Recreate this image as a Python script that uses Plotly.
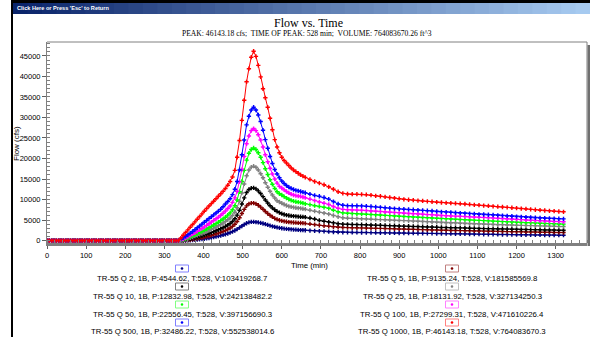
import plotly.graph_objects as go

# ---------------- data ----------------
base_times = list(range(0, 336, 6))
rise_times = list(range(336, 661, 6))
tail_times = list(range(672, 1321, 12))

series_names = ["TR-55 Q 2", "TR-55 Q 5", "TR-55 Q 10", "TR-55 Q 25",
                "TR-55 Q 50", "TR-55 Q 100", "TR-55 Q 500", "TR-55 Q 1000"]

legend_labels = [
    "TR-55 Q 2, 1B, P:4544.62, T:528, V:103419268.7",
    "TR-55 Q 5, 1B, P:9135.24, T:528, V:181585569.8",
    "TR-55 Q 10, 1B, P:12832.98, T:528, V:242138482.2",
    "TR-55 Q 25, 1B, P:18131.92, T:528, V:327134250.3",
    "TR-55 Q 50, 1B, P:22556.45, T:528, V:397156690.3",
    "TR-55 Q 100, 1B, P:27299.31, T:528, V:471610226.4",
    "TR-55 Q 500, 1B, P:32486.22, T:528, V:552538014.6",
    "TR-55 Q 1000, 1B, P:46143.18, T:528, V:764083670.3",
]

q2_rise = [0, 0, 0, 10, 30, 60, 100, 150, 210, 280,
           350, 430, 520, 620, 720, 830, 950, 1080, 1220, 1370,
           1530, 1720, 1930, 2170, 2450, 2780, 3150, 3530, 3900, 4220,
           4430, 4530, 4544.62, 4500, 4420, 4300, 4150, 3980, 3800, 3630,
           3470, 3320, 3190, 3080, 2990, 2910, 2840, 2780, 2730, 2680,
           2640, 2600, 2560, 2530, 2500]
q2_tail = [2430, 2370, 2300, 2230, 2160, 2090, 2030, 2000, 1990, 1980,
           1970, 1960, 1950, 1930, 1920, 1900, 1890, 1870, 1860, 1840,
           1830, 1810, 1800, 1780, 1770, 1750, 1740, 1720, 1700, 1690,
           1670, 1660, 1640, 1620, 1600, 1580, 1560, 1540, 1530, 1510,
           1490, 1470, 1460, 1440, 1420, 1400, 1390, 1380, 1370, 1360,
           1350, 1340, 1330, 1310, 1300]

q5_rise = [0, 0, 20, 60, 120, 190, 270, 360, 460, 570,
           690, 820, 960, 1110, 1270, 1440, 1620, 1810, 2010, 2230,
           2470, 2740, 3050, 3450, 3950, 4650, 5550, 6600, 7600, 8450,
           8950, 9120, 9135.24, 8950, 8600, 8150, 7650, 7100, 6600, 6150,
           5750, 5400, 5150, 4950, 4800, 4680, 4580, 4500, 4440, 4390,
           4350, 4310, 4270, 4230, 4190]
q5_tail = [4050, 3900, 3720, 3600, 3480, 3360, 3240, 3180, 3150, 3120,
           3100, 3080, 3050, 3020, 2990, 2960, 2930, 2900, 2870, 2830,
           2800, 2770, 2730, 2700, 2660, 2630, 2590, 2560, 2520, 2500,
           2470, 2450, 2420, 2400, 2370, 2340, 2310, 2290, 2270, 2250,
           2230, 2200, 2180, 2160, 2140, 2120, 2100, 2080, 2060, 2040,
           2020, 2000, 1980, 1970, 1950]

q10_rise = [0, 20, 80, 170, 280, 400, 530, 670, 820, 980,
            1150, 1330, 1520, 1720, 1930, 2150, 2380, 2620, 2870, 3140,
            3440, 3770, 4150, 4650, 5300, 6200, 7400, 8900, 10400, 11700,
            12450, 12780, 12832.98, 12600, 12100, 11450, 10700, 9900, 9150, 8500,
            7950, 7500, 7100, 6800, 6550, 6350, 6200, 6100, 6020, 5950,
            5900, 5850, 5800, 5750, 5700]
q10_tail = [5500, 5250, 4900, 4700, 4500, 4300, 4100, 4000, 3950, 3920,
            3900, 3880, 3840, 3800, 3760, 3720, 3680, 3640, 3600, 3560,
            3520, 3480, 3440, 3400, 3360, 3320, 3280, 3240, 3200, 3170,
            3140, 3110, 3080, 3040, 3000, 2960, 2920, 2900, 2880, 2850,
            2830, 2800, 2780, 2750, 2730, 2700, 2680, 2660, 2640, 2610,
            2590, 2570, 2550, 2530, 2500]

q25_rise = [0, 50, 170, 320, 490, 670, 860, 1060, 1270, 1490,
            1720, 1960, 2210, 2470, 2740, 3020, 3310, 3610, 3930, 4270,
            4640, 5050, 5500, 6100, 6900, 8000, 9600, 11600, 13800, 15800,
            17200, 17900, 18131.92, 17850, 17200, 16300, 15300, 14100, 13000, 12000,
            11100, 10350, 9700, 9400, 9100, 8800, 8550, 8350, 8200, 8100,
            8000, 7920, 7850, 7750, 7650]
q25_tail = [7400, 7150, 6920, 6700, 6450, 6100, 5800, 5550, 5450, 5400,
            5350, 5300, 5250, 5200, 5150, 5100, 5050, 5000, 4950, 4900,
            4850, 4800, 4740, 4680, 4620, 4560, 4500, 4440, 4390, 4340,
            4290, 4240, 4190, 4140, 4100, 4050, 4000, 3970, 3940, 3900,
            3870, 3830, 3800, 3770, 3730, 3700, 3670, 3640, 3610, 3580,
            3550, 3510, 3480, 3440, 3400]

q50_rise = [0, 100, 280, 480, 700, 930, 1170, 1420, 1680, 1950,
            2230, 2520, 2820, 3130, 3450, 3780, 4120, 4470, 4850, 5250,
            5700, 6200, 6750, 7500, 8500, 9900, 11900, 14400, 17100, 19600,
            21300, 22200, 22556.45, 22200, 21400, 20300, 19000, 17500, 16100, 14800,
            13700, 12700, 11900, 11400, 11100, 10700, 10350, 10050, 9800, 9600,
            9450, 9350, 9250, 9100, 8950]
q50_tail = [8750, 8500, 8320, 8100, 7850, 7400, 7000, 6750, 6650, 6580,
            6530, 6480, 6420, 6350, 6280, 6210, 6140, 6070, 6000, 5930,
            5870, 5810, 5750, 5690, 5630, 5570, 5510, 5450, 5390, 5330,
            5270, 5210, 5150, 5090, 5030, 4970, 4910, 4850, 4790, 4730,
            4670, 4610, 4550, 4500, 4450, 4400, 4350, 4300, 4250, 4200,
            4160, 4120, 4080, 4040, 4000]

q100_rise = [0, 150, 400, 650, 950, 1250, 1550, 1900, 2250, 2600,
             2950, 3300, 3700, 4100, 4500, 4900, 5300, 5700, 6150, 6650,
             7200, 7800, 8400, 9300, 10400, 12000, 14300, 17300, 20500, 23600,
             25500, 26800, 27299.31, 26800, 25800, 24500, 22800, 20900, 19200, 17600,
             16200, 15000, 14000, 13200, 12800, 12350, 11950, 11600, 11300, 11100,
             10950, 10850, 10750, 10600, 10450]
q100_tail = [10100, 9750, 9400, 9100, 8800, 8300, 7850, 7600, 7500, 7450,
             7420, 7380, 7300, 7220, 7140, 7060, 6980, 6900, 6820, 6740,
             6670, 6600, 6530, 6460, 6390, 6320, 6250, 6180, 6100, 6050,
             6000, 5950, 5900, 5850, 5800, 5750, 5700, 5640, 5580, 5520,
             5450, 5380, 5310, 5240, 5170, 5100, 5020, 4950, 4880, 4820,
             4760, 4710, 4660, 4620, 4580]

q500_rise = [0, 300, 650, 1000, 1400, 1800, 2200, 2650, 3100, 3550,
             4000, 4450, 4900, 5350, 5800, 6250, 6700, 7150, 7650, 8250,
             8900, 9500, 10200, 11200, 12500, 14400, 17200, 20900, 24500, 28200,
             30300, 31800, 32486.22, 31800, 30600, 29000, 26900, 24600, 22500, 20500,
             18800, 17300, 16200, 15300, 14500, 13900, 13400, 13000, 12700, 12450,
             12250, 12100, 11950, 11800, 11650]
q500_tail = [11300, 11000, 10800, 10500, 10100, 9500, 8900, 8600, 8500, 8500,
             8480, 8450, 8380, 8300, 8200, 8100, 8000, 7900, 7800, 7720,
             7650, 7580, 7500, 7430, 7350, 7280, 7200, 7100, 7000, 6930,
             6860, 6780, 6700, 6630, 6560, 6480, 6400, 6340, 6280, 6220,
             6150, 6080, 6000, 5920, 5850, 5780, 5700, 5630, 5560, 5500,
             5450, 5400, 5360, 5320, 5280]

q1000_rise = [0, 600, 1300, 1950, 2600, 3250, 3900, 4550, 5200, 5850,
              6500, 7150, 7800, 8400, 9000, 9600, 10200, 10800, 11400, 12000,
              12700, 13500, 14400, 15500, 17100, 20300, 24400, 29300, 34200, 38700,
              41900, 44700, 46143.18, 44900, 42700, 39900, 37000, 34800, 32500, 29800,
              27000, 24600, 22800, 21400, 20300, 19500, 18900, 18300, 17700, 17200,
              16800, 16400, 16000, 15700, 15400]
q1000_tail = [14900, 14400, 14000, 13600, 13100, 12500, 11900, 11500, 11350, 11300,
              11300, 11250, 11200, 11050, 10900, 10800, 10650, 10500, 10350, 10200,
              10050, 9950, 9850, 9750, 9650, 9550, 9450, 9350, 9280, 9200,
              9120, 9050, 8980, 8900, 8800, 8700, 8620, 8530, 8440, 8350,
              8260, 8170, 8080, 7990, 7900, 7800, 7700, 7600, 7500, 7400,
              7320, 7240, 7160, 7080, 7000]

rises = [q2_rise, q5_rise, q10_rise, q25_rise, q50_rise, q100_rise, q500_rise, q1000_rise]
tails = [q2_tail, q5_tail, q10_tail, q25_tail, q50_tail, q100_tail, q500_tail, q1000_tail]
baseline_flow = [0] * len(base_times)

x_ticks = list(range(0, 1301, 100))
y_ticks = list(range(0, 45001, 5000))

# ---------------- styling ----------------
colors = ["#000080", "#800000", "#000000", "#808080",
          "#00ff00", "#ff00ff", "#0000ff", "#ff0000"]
box_colors = ["#8080ff", "#c08080", "#808080", "#c0c0c0",
              "#80ff80", "#ff80ff", "#8080ff", "#ff8080"]

W, H = 590, 337
L, R, T, B = 47, 587, 42, 243


def px(x):
    return (x - L) / (R - L)


def py(y):
    return (B - y) / (B - T)


fig = go.Figure()
for name, col, rs, tl in zip(series_names, colors, rises, tails):
    xs = base_times + rise_times[:len(rs)] + tail_times[:len(tl)]
    ys = baseline_flow + rs + tl
    fig.add_trace(go.Scatter(
        x=xs, y=ys, mode="lines+markers", name=name,
        line=dict(color=col, width=1),
        marker=dict(symbol="cross", size=3.6, color=col, line=dict(width=0)),
        showlegend=False, hoverinfo="skip", cliponaxis=True))

shapes = []
annotations = []

# window frame and title bar
shapes.append(dict(type="rect", xref="paper", yref="paper",
                   x0=px(11), x1=px(590), y0=py(3), y1=py(0),
                   fillcolor="#000000", line=dict(width=0), layer="above"))
shapes.append(dict(type="rect", xref="paper", yref="paper",
                   x0=px(11), x1=px(13), y0=py(337), y1=py(0),
                   fillcolor="#000000", line=dict(width=0), layer="above"))
n = 40
c0 = (10, 36, 106)
c1 = (166, 202, 240)
for i in range(n):
    f = i / (n - 1)
    c = tuple(int(round(c0[k] + (c1[k] - c0[k]) * f)) for k in range(3))
    xa = 13 + (590 - 13) * i / n
    xb = 13 + (590 - 13) * (i + 1) / n
    shapes.append(dict(type="rect", xref="paper", yref="paper",
                       x0=px(xa), x1=px(xb) + 0.002, y0=py(14), y1=py(3),
                       fillcolor="rgb(%d,%d,%d)" % c, line=dict(width=0), layer="above"))
annotations.append(dict(text="<b>Click Here or Press 'Esc' to Return</b>",
                        xref="paper", yref="paper", x=px(15), y=py(8.5),
                        xanchor="left", yanchor="middle", showarrow=False,
                        font=dict(family="Liberation Sans", size=5.6, color="white")))

# plot frame (top + right) and shadow
shapes.append(dict(type="line", xref="paper", yref="paper", x0=0, x1=1, y0=1, y1=1,
                   line=dict(color="#808080", width=1)))
shapes.append(dict(type="line", xref="paper", yref="paper", x0=1, x1=1, y0=0, y1=1,
                   line=dict(color="#808080", width=1)))
shapes.append(dict(type="rect", xref="paper", yref="paper",
                   x0=px(587.5), x1=px(590), y0=py(246), y1=py(45),
                   fillcolor="#707070", line=dict(width=0)))

# titles
annotations.append(dict(text="Flow vs. Time", xref="paper", yref="paper",
                        x=px(308), y=py(23), xanchor="center", yanchor="middle",
                        showarrow=False,
                        font=dict(family="Liberation Serif", size=12, color="black")))
annotations.append(dict(text="PEAK: 46143.18 cfs;  TIME OF PEAK: 528 min;  VOLUME: 764083670.26 ft^3",
                        xref="paper", yref="paper", x=px(307), y=py(34),
                        xanchor="center", yanchor="middle", showarrow=False,
                        font=dict(family="Liberation Serif", size=7.6, color="black")))
annotations.append(dict(text="Flow (cfs)", xref="paper", yref="paper",
                        x=px(16), y=py(144), xanchor="center", yanchor="middle",
                        textangle=-90, showarrow=False,
                        font=dict(family="Liberation Sans", size=8, color="black")))
annotations.append(dict(text="Time (min)", xref="paper", yref="paper",
                        x=px(309), y=py(265), xanchor="center", yanchor="middle",
                        showarrow=False,
                        font=dict(family="Liberation Sans", size=7.8, color="black")))

# custom legend
left_col = [0, 2, 4, 6]
right_col = [1, 3, 5, 7]
box_y = [268.5, 286.5, 304.5, 322.5]
text_y = [278, 296, 314, 331]
for col_x, idxs in ((182, left_col), (452, right_col)):
    for row, i in enumerate(idxs):
        shapes.append(dict(type="rect", xref="paper", yref="paper",
                           x0=px(col_x - 6.5), x1=px(col_x + 6.5),
                           y0=py(box_y[row] + 3.5), y1=py(box_y[row] - 3.5),
                           fillcolor="white", line=dict(color=box_colors[i], width=1)))
        shapes.append(dict(type="circle", xref="paper", yref="paper",
                           x0=px(col_x - 1.3), x1=px(col_x + 1.3),
                           y0=py(box_y[row] + 1.3), y1=py(box_y[row] - 1.3),
                           fillcolor=colors[i], line=dict(width=0)))
        annotations.append(dict(text=legend_labels[i], xref="paper", yref="paper",
                                x=px(col_x), y=py(text_y[row]),
                                xanchor="center", yanchor="middle", showarrow=False,
                                font=dict(family="Liberation Sans", size=7.8, color="black")))

fig.update_layout(
    template="none",
    width=W, height=H, autosize=False, showlegend=False,
    margin=dict(l=L, r=W - R, t=T, b=H - B, pad=0, autoexpand=False),
    paper_bgcolor="white", plot_bgcolor="white",
    shapes=shapes, annotations=annotations,
    xaxis=dict(range=[0, 1380], tickvals=x_ticks, ticktext=[str(v) for v in x_ticks],
               automargin=False,
               ticks="outside", ticklen=3, tickcolor="#606060", tickwidth=1,
               minor=dict(dtick=20, tick0=0, ticks="inside", ticklen=3,
                          tickcolor="#808080", showgrid=False),
               showgrid=False, zeroline=False, showline=True,
               linecolor="#808080", linewidth=3,
               tickfont=dict(family="Liberation Sans", size=7.5, color="black")),
    yaxis=dict(range=[-600, 48400], tickvals=y_ticks, ticktext=[str(v) for v in y_ticks],
               automargin=False,
               ticks="outside", ticklen=4, tickcolor="#606060", tickwidth=1,
               minor=dict(dtick=1000, tick0=0, ticks="inside", ticklen=3,
                          tickcolor="#808080", showgrid=False),
               showgrid=False, zeroline=False, showline=True,
               linecolor="#808080", linewidth=1,
               tickfont=dict(family="Liberation Sans", size=7.5, color="black")),
)

fig.write_html(
    "out.html",
    config={"displayModeBar": False},
    post_script="document.body.style.margin='0px';document.body.style.padding='0px';"
                "document.body.style.overflow='hidden';",
)
